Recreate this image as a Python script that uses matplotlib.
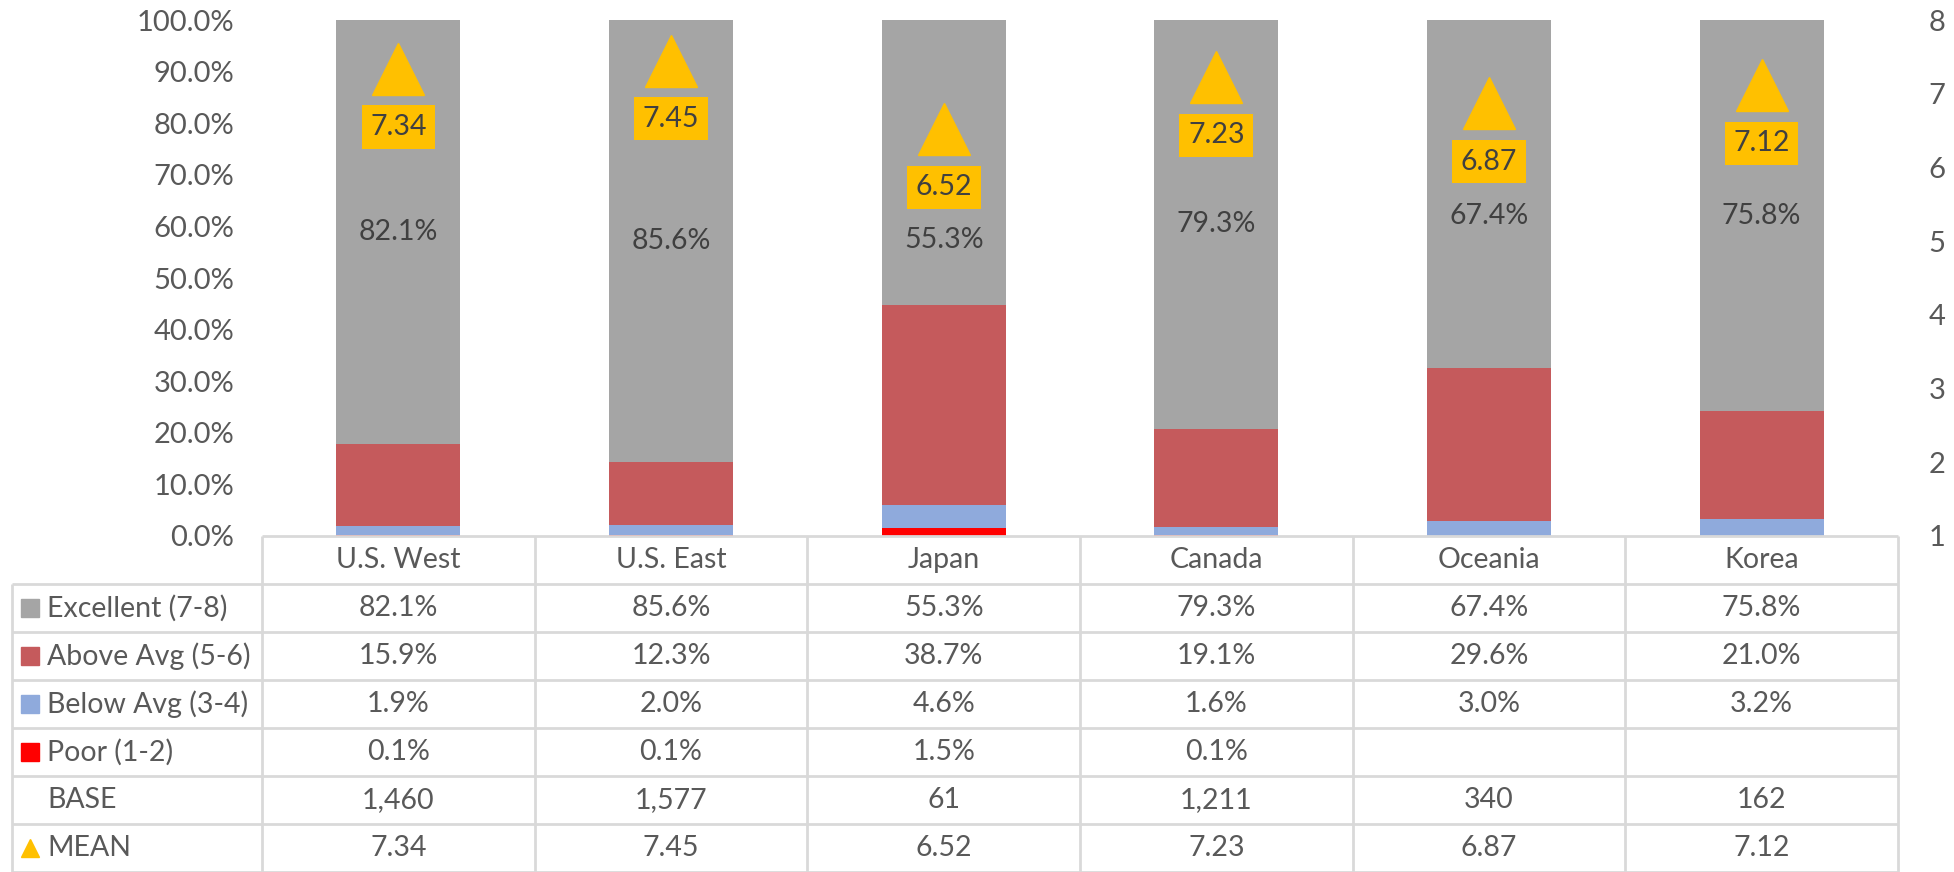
import matplotlib
matplotlib.use("Agg")
import matplotlib.pyplot as plt
import numpy as np

plt.rcParams['font.family'] = ['Lato', 'DejaVu Sans']

categories = ["U.S. West", "U.S. East", "Japan", "Canada", "Oceania", "Korea"]
excellent = [82.1, 85.6, 55.3, 79.3, 67.4, 75.8]
above_avg = [15.9, 12.3, 38.7, 19.1, 29.6, 21.0]
below_avg = [1.9, 2.0, 4.6, 1.6, 3.0, 3.2]
poor = [0.1, 0.1, 1.5, 0.1, None, None]
base = ["1,460", "1,577", "61", "1,211", "340", "162"]
mean = [7.34, 7.45, 6.52, 7.23, 6.87, 7.12]

series_names = ["Excellent (7-8)", "Above Avg (5-6)", "Below Avg (3-4)", "Poor (1-2)"]
left_ticks = [0, 10, 20, 30, 40, 50, 60, 70, 80, 90, 100]
right_ticks = [1, 2, 3, 4, 5, 6, 7, 8]

C_EXC = "#A5A5A5"
C_ABV = "#C55A5C"
C_BLW = "#8FAADC"
C_POOR = "#FF0000"
C_MEAN = "#FFC000"
TXT = "#595959"
DARK = "#404040"
GRID = "#D9D9D9"
FS = 20.5

W, H = 1954, 872
fig = plt.figure(figsize=(W / 100, H / 100), dpi=100)

x0, x1 = 262, 1898
y_top, y_zero = 20, 536
ax = fig.add_axes([x0 / W, (H - y_zero) / H, (x1 - x0) / W, (y_zero - y_top) / H])
x = np.arange(len(categories))
p = np.array([v if v is not None else 0 for v in poor]) / 100
b = np.array(below_avg) / 100
a = np.array(above_avg) / 100
e = np.array(excellent) / 100
bw = 0.455
ax.bar(x, p, bw, color=C_POOR)
ax.bar(x, b, bw, bottom=p, color=C_BLW)
ax.bar(x, a, bw, bottom=p + b, color=C_ABV)
ax.bar(x, e, bw, bottom=p + b + a, color=C_EXC)
# manual nudges of data labels (as in the original, to avoid the mean boxes)
nudge = {2: -0.15, 4: -0.043}
for i in range(len(x)):
    ax.text(x[i], p[i] + b[i] + a[i] + e[i] / 2 + nudge.get(i, 0), f"{excellent[i]:.1f}%",
            ha="center", va="center", fontsize=FS, color=DARK)
ax.set_xlim(-0.5, len(categories) - 0.5)
ax.set_ylim(0, 1)
ax.set_yticks([t / 100 for t in left_ticks])
ax.set_yticklabels([f"{t:.1f}%" for t in left_ticks])
ax.tick_params(axis="y", length=0, pad=20, labelsize=FS + 0.5, labelcolor=TXT)
ax.set_xticks([])
for s in ax.spines.values():
    s.set_visible(False)

ax2 = ax.twinx()
ax2.set_ylim(1, 8)
ax2.set_yticks(right_ticks)
ax2.tick_params(axis="y", length=0, pad=22, labelsize=FS + 0.5, labelcolor=TXT)
for s in ax2.spines.values():
    s.set_visible(False)
ax2.plot(x, mean, linestyle="none", marker="^", markersize=38, color=C_MEAN, zorder=5)
for i in range(len(x)):
    ax2.annotate(f"{mean[i]:.2f}", (x[i], mean[i]), xytext=(0, -42), textcoords="offset points",
                 ha="center", va="center", fontsize=FS, color=DARK,
                 bbox=dict(boxstyle="square,pad=0.3", fc=C_MEAN, ec="none"), zorder=6)

# data table
tl = 12
unit = (x1 - x0) / len(categories)
lw_col = (x0 - tl) / unit
tax = fig.add_axes([tl / W, 0, (x1 - tl) / W, (H - y_zero) / H])
tax.set_xlim(-0.5 - lw_col, len(categories) - 0.5)
tax.set_ylim(0, 7)
tax.axis("off")
lkw = dict(color=GRID, lw=2, clip_on=False, solid_capstyle="butt")
tax.plot([-0.5, len(categories) - 0.5], [7, 7], **lkw)
for yy in range(0, 7):
    tax.plot([-0.5 - lw_col, len(categories) - 0.5], [yy, yy], **lkw)
for xx in np.arange(-0.5, len(categories), 1.0):
    tax.plot([xx, xx], [0, 7], **lkw)
tax.plot([-0.5 - lw_col, -0.5 - lw_col], [0, 6], **lkw)

for i, c in enumerate(categories):
    tax.text(i, 6.5, c, ha="center", va="center", fontsize=FS, color=TXT)

def fmt_pct(v):
    return "" if v is None else f"{v:.1f}%"

rows = [
    (series_names[0], [fmt_pct(v) for v in excellent], "s", C_EXC),
    (series_names[1], [fmt_pct(v) for v in above_avg], "s", C_ABV),
    (series_names[2], [fmt_pct(v) for v in below_avg], "s", C_BLW),
    (series_names[3], [fmt_pct(v) for v in poor], "s", C_POOR),
    ("BASE", base, None, None),
    ("MEAN", [f"{v:.2f}" for v in mean], "^", C_MEAN),
]
mk_x = -0.5 - lw_col + (30 - tl) / unit
tx_x = -0.5 - lw_col + (47 - tl) / unit
for r, (name, vals, mk, col) in enumerate(rows):
    yc = 5.5 - r
    if mk is not None:
        tax.plot([mk_x], [yc], marker=mk, markersize=12.5, color=col, linestyle="none", clip_on=False)
    tax.text(tx_x, yc, name, ha="left", va="center", fontsize=FS, color=TXT)
    for i, v in enumerate(vals):
        tax.text(i, yc, v, ha="center", va="center", fontsize=FS, color=TXT)

fig.savefig("out.png", dpi=100)
